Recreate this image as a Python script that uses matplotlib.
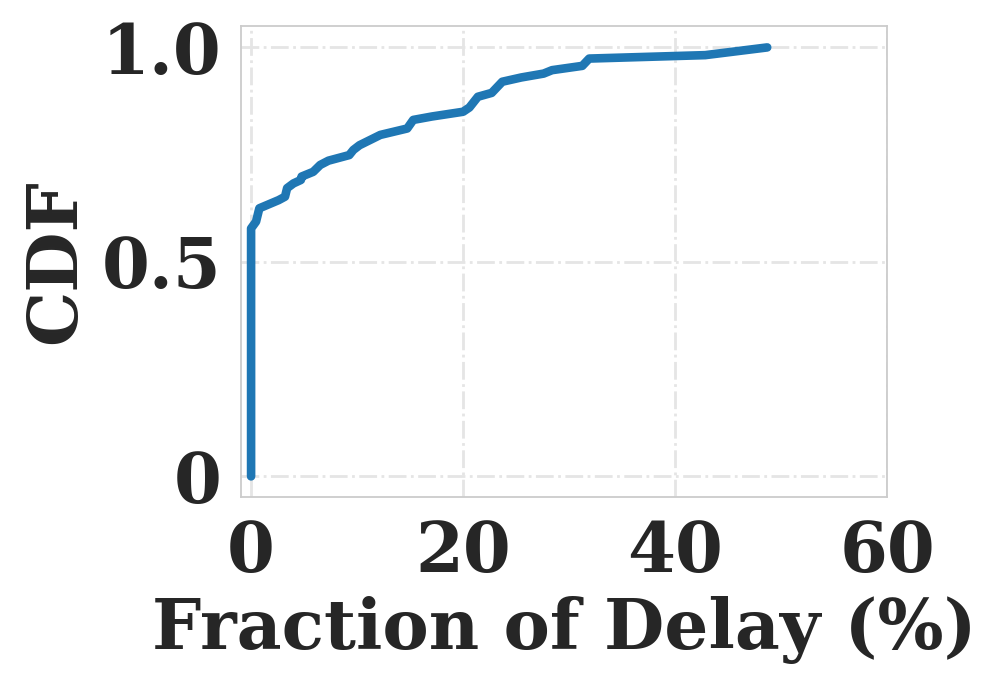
import matplotlib
matplotlib.use("Agg")
import matplotlib.pyplot as plt
import seaborn as sns

# CDF of fraction of delay (%)
delay_pct = [0.0, 0.0, 0.47, 0.78, 2.6, 3.2, 3.4, 4.0, 4.7, 4.77, 5.86, 6.52, 7.3,
             9.26, 9.65, 10.23, 12.19, 14.73, 15.3, 17.07, 20.0, 20.6, 21.4, 22.7,
             23.7, 25.5, 27.6, 28.4, 31.25, 31.9, 42.85, 48.7]
cdf = [0.0, 0.578, 0.594, 0.625, 0.644, 0.652, 0.672, 0.683, 0.691, 0.699, 0.710,
       0.726, 0.736, 0.749, 0.761, 0.772, 0.796, 0.811, 0.831, 0.839, 0.850, 0.860,
       0.885, 0.894, 0.920, 0.930, 0.939, 0.947, 0.957, 0.974, 0.982, 1.0]

x_ticks = [0, 20, 40, 60]
y_ticks = [0, 0.5, 1.0]
y_tick_labels = ["0", "0.5", "1.0"]

sns.set_style("whitegrid", {"grid.linestyle": "-.", "grid.color": "#e5e5e5",
                            "axes.edgecolor": "#cccccc"})
plt.rcParams["font.family"] = ["DejaVu Serif"]
plt.rcParams["font.weight"] = "bold"

fig = plt.figure(figsize=(9.98, 6.87), dpi=100)
ax = fig.add_axes([0.2415, 0.2766, 0.8888 - 0.2415, 0.9622 - 0.2766])

ax.plot(delay_pct, cdf, color="#1f77b4", linewidth=6.2, solid_capstyle="round",
        solid_joinstyle="round")

ax.set_xlim(-0.95, 59.9)
ax.set_ylim(-0.048, 1.05)
ax.set_xticks(x_ticks)
ax.set_yticks(y_ticks)
ax.set_yticklabels(y_tick_labels)
ax.tick_params(axis="both", labelsize=49.5, colors="#262626", length=0)
ax.tick_params(axis="x", pad=16)
ax.tick_params(axis="y", pad=14)
for lbl in ax.get_xticklabels() + ax.get_yticklabels():
    lbl.set_fontweight("bold")
ax.grid(True, linestyle="-.", color="#e5e5e5", linewidth=2.0)
for s in ax.spines.values():
    s.set_color("#cccccc")
    s.set_linewidth(1.3)

ax.set_xlabel("Fraction of Delay (%)", fontsize=50, fontweight="bold", color="#262626", labelpad=7)
ax.set_ylabel("CDF", fontsize=50, fontweight="bold", color="#262626", labelpad=9)

fig.savefig("out.png", dpi=100)
